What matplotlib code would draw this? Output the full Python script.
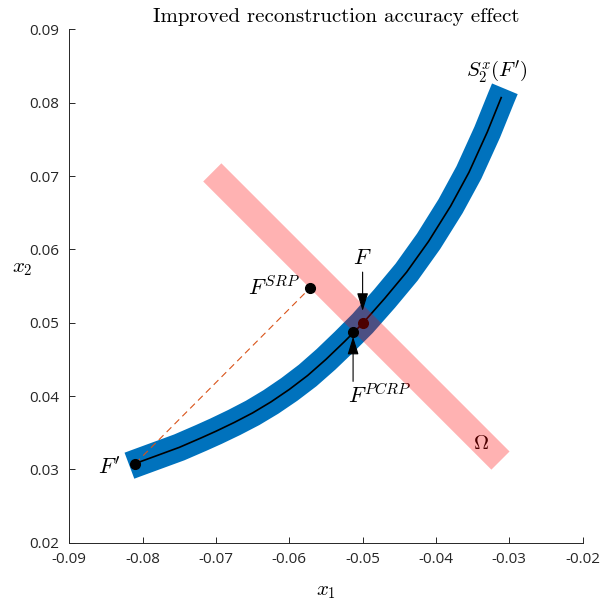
import matplotlib
matplotlib.use("Agg")
import matplotlib.pyplot as plt

plt.rcParams["mathtext.fontset"] = "cm"
plt.rcParams["axes.unicode_minus"] = False

# curva S_2^x(F')
curva_x1 = [-0.0810, -0.0780, -0.0750, -0.0720, -0.0700, -0.0675, -0.0650, -0.0625,
            -0.0600, -0.0575, -0.0550, -0.0525, -0.0500, -0.0470, -0.0440, -0.0410,
            -0.0380, -0.0355, -0.0330, -0.0311]
curva_x2 = [0.0308, 0.0319, 0.0330, 0.0343, 0.0352, 0.0364, 0.0377, 0.0392,
            0.0409, 0.0428, 0.0450, 0.0474, 0.0499, 0.0533, 0.0569, 0.0611,
            0.0659, 0.0705, 0.0760, 0.0807]

# faixa azul: mesma curva, um pouco mais longa nas pontas
banda_x1 = [-0.0818] + curva_x1 + [-0.0306]
banda_x2 = [0.0305] + curva_x2 + [0.0819]

# restricao Omega (x1 + x2 = 0)
omega_x1 = [-0.0705, -0.0312]
omega_x2 = [0.0705, 0.0312]

# pontos
f_linha = (-0.0810, 0.0308)
f_srp = (-0.0572, 0.0547)
f_ponto = (-0.0500, 0.0500)
f_pcrp = (-0.0513, 0.0488)

xticks = [-0.09, -0.08, -0.07, -0.06, -0.05, -0.04, -0.03, -0.02]
xtick_labels = ["-0.09", "-0.08", "-0.07", "-0.06", "-0.05", "-0.04", "-0.03", "-0.02"]
yticks = [0.02, 0.03, 0.04, 0.05, 0.06, 0.07, 0.08, 0.09]
ytick_labels = ["0.02", "0.03", "0.04", "0.05", "0.06", "0.07", "0.08", "0.09"]

fig = plt.figure(figsize=(6.05, 6.09), dpi=100)
ax = fig.add_axes([69.3 / 605, (609 - 542.7) / 609, 513.3 / 605, 513.3 / 609])

# faixa azul e curva preta
ax.plot(banda_x1, banda_x2, color="#0072BD", lw=20, solid_capstyle="butt",
        solid_joinstyle="round", zorder=1)
ax.plot(curva_x1, curva_x2, color="black", lw=1.2, zorder=2)

# linha tracejada F' -> F^SRP
ax.plot([f_linha[0], f_srp[0]], [f_linha[1], f_srp[1]], color="#D95319",
        lw=0.8, dashes=(6, 4), zorder=2)

# F fica por baixo da faixa rosa
ax.plot(*f_ponto, "o", color="black", ms=7, zorder=3)

ax.plot(omega_x1, omega_x2, color="red", alpha=0.3, lw=18.5,
        solid_capstyle="butt", zorder=4)

ax.plot(*f_linha, "o", color="black", ms=7, zorder=5)
ax.plot(*f_srp, "o", color="black", ms=7, zorder=5)
ax.plot(*f_pcrp, "o", color="black", ms=7, zorder=5)

# setas
estilo_seta = dict(arrowstyle="-|>,head_length=0.55,head_width=0.17", color="black",
                   lw=0.8, shrinkA=0, shrinkB=0, mutation_scale=20)
ax.annotate("", xy=(-0.0500, 0.0516), xytext=(-0.0500, 0.0569),
            arrowprops=estilo_seta, zorder=6)
ax.annotate("", xy=(-0.0513, 0.0481), xytext=(-0.0513, 0.0420),
            arrowprops=estilo_seta, zorder=6)

# rotulos
ax.text(-0.0500, 0.0588, r"$F$", fontsize=16, ha="center", va="center")
ax.text(-0.0585, 0.0549, r"$F^{SRP}$", fontsize=16, ha="right", va="center")
ax.text(-0.0520, 0.0401, r"$F^{PCRP}$", fontsize=16, ha="left", va="center")
ax.text(-0.0317, 0.0842, r"$S_2^x(F^\prime)$", fontsize=15, ha="center", va="center")
ax.text(-0.0830, 0.0303, r"$F'$", fontsize=16, ha="right", va="center")
ax.text(-0.0338, 0.0336, r"$\Omega$", fontsize=15, ha="center", va="center")

ax.set_xlim(-0.09, -0.02)
ax.set_ylim(0.02, 0.09)
ax.set_xticks(xticks)
ax.set_xticklabels(xtick_labels)
ax.set_yticks(yticks)
ax.set_yticklabels(ytick_labels)

for lado in ["top", "right"]:
    ax.spines[lado].set_visible(False)
for lado in ["left", "bottom"]:
    ax.spines[lado].set_color("#262626")
    ax.spines[lado].set_linewidth(0.7)

ax.tick_params(direction="in", length=4, width=0.7, color="#262626",
               labelcolor="#262626", labelsize=11, pad=7)
for rotulo in ax.get_xticklabels() + ax.get_yticklabels():
    rotulo.set_fontfamily("Open Sans")

ax.set_xlabel(r"$x_1$", fontsize=15)
ax.xaxis.set_label_coords(0.5, -0.075)
ax.set_ylabel(r"$x_2$", fontsize=15, rotation=0)
ax.yaxis.set_label_coords(-0.092, 0.516)

ax.set_title("Improved reconstruction accuracy effect", fontfamily="cmr10",
             fontsize=15, pad=5, x=0.52)

plt.savefig("out.png", dpi=100)
